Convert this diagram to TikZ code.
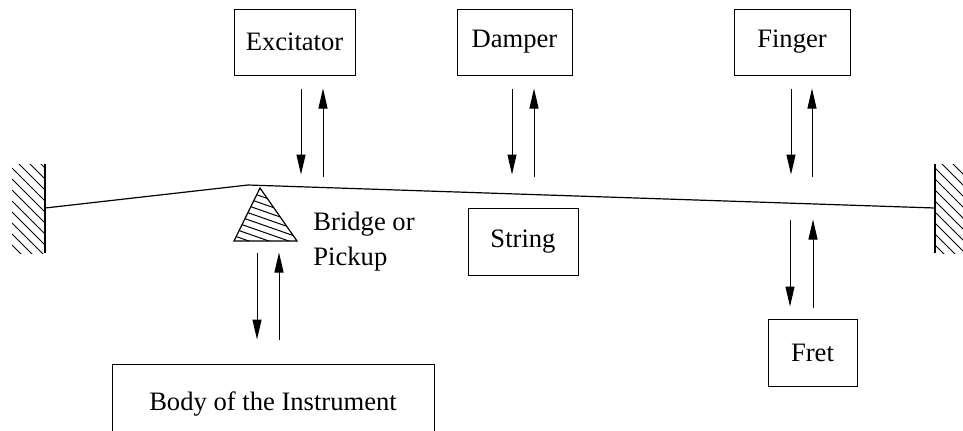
\documentclass[tikz,border=0pt]{standalone}
\usepackage{fontspec}
\setmainfont{Liberation Serif}
\usetikzlibrary{arrows.meta, positioning, calc}
\newcommand{\lblfont}{\fontsize{13.3}{17.5}\selectfont}

\begin{document}
\begin{tikzpicture}[
  x=0.5pt, y=-0.5pt,
  box/.style   = {draw, line width=0.5pt, inner sep=0pt, font=\lblfont,
                  minimum height=33pt},
  arrow/.style = {-{Triangle[length=10pt, width=4.5pt]}, line width=0.5pt},
  wall/.style  = {line width=1.1pt},
  hatch/.style = {line width=0.5pt},
]
\useasboundingbox (0,0) rectangle (963,430);
\clip (0,0) rectangle (963,430);

%% ==================== TOP ROW: CONTROLLERS ====================
\node[box, minimum width=60.5pt] (excitator) at (294.5,42) {Excitator};
\node[box, minimum width=57.5pt] (damper)    at (514.5,42) {Damper};
\node[box, minimum width=58pt]   (finger)    at (792,42)   {Finger};

%% ==================== STRING BETWEEN WALLS ====================
\coordinate (wallL) at (45,208);
\coordinate (peak)  at (248,185);
\coordinate (wallR) at (935,208);
\draw[line width=0.6pt] (wallL) -- (peak) -- (wallR);

%% Left wall
\draw[wall] (45,164) -- (45,253);
\begin{scope}
  \clip (12,164) rectangle (45,253);
  \foreach \k in {0,...,12}
    \draw[hatch] (12,124+11*\k) -- ++(40,40);
\end{scope}

%% Right wall
\draw[wall] (935,164) -- (935,253);
\begin{scope}
  \clip (935,164) rectangle (963,253);
  \foreach \k in {0,...,12}
    \draw[hatch] (935,124+11*\k) -- ++(40,40);
\end{scope}

%% Bridge / pickup (hatched triangle)
\coordinate (apex) at (260,188);
\draw[line width=0.6pt] (apex) -- (297,241) -- (234,241) -- cycle;
\begin{scope}
  \clip (apex) -- (297,241) -- (234,241) -- cycle;
  \foreach \k in {0,...,10}
    \draw[hatch] (226,170+7*\k) -- ++(80,28);
\end{scope}
\node[anchor=west, align=left, inner sep=0pt, font=\lblfont] (bridgelbl)
      at (313,242) {Bridge or\\Pickup};

\node[box, minimum width=55pt, minimum height=33.5pt] (string) at (523,241.5) {String};

%% ==================== BOTTOM ROW ====================
\node[box, minimum width=44.5pt, minimum height=33.5pt] (fret) at (812.5,352.5) {Fret};
\node[box, minimum width=161pt, minimum height=40pt] (body) at (273,404) {Body of the Instrument};

%% Arrows to / from the string
\draw[arrow] ($(excitator.south)+(6.5,13)$)   -- ++(0,86);
\draw[arrow] ($(excitator.south)+(28.5,101)$) -- ++(0,-88);
\draw[arrow] ($(damper.south)+(-2.5,13)$)     -- ++(0,86);
\draw[arrow] ($(damper.south)+(19.5,101)$)    -- ++(0,-88);
\draw[arrow] ($(finger.south)+(-1,13)$)       -- ++(0,86);
\draw[arrow] ($(finger.south)+(20,101)$)      -- ++(0,-88);

\draw[arrow] ($(body.north)+(-16,-111)$) -- ++(0,87);
\draw[arrow] ($(body.north)+(6,-24)$)    -- ++(0,-87);
\draw[arrow] ($(fret.north)+(-22.5,-99)$) -- ++(0,87);
\draw[arrow] ($(fret.north)+(0.5,-11)$)   -- ++(0,-88);

\end{tikzpicture}
\end{document}
